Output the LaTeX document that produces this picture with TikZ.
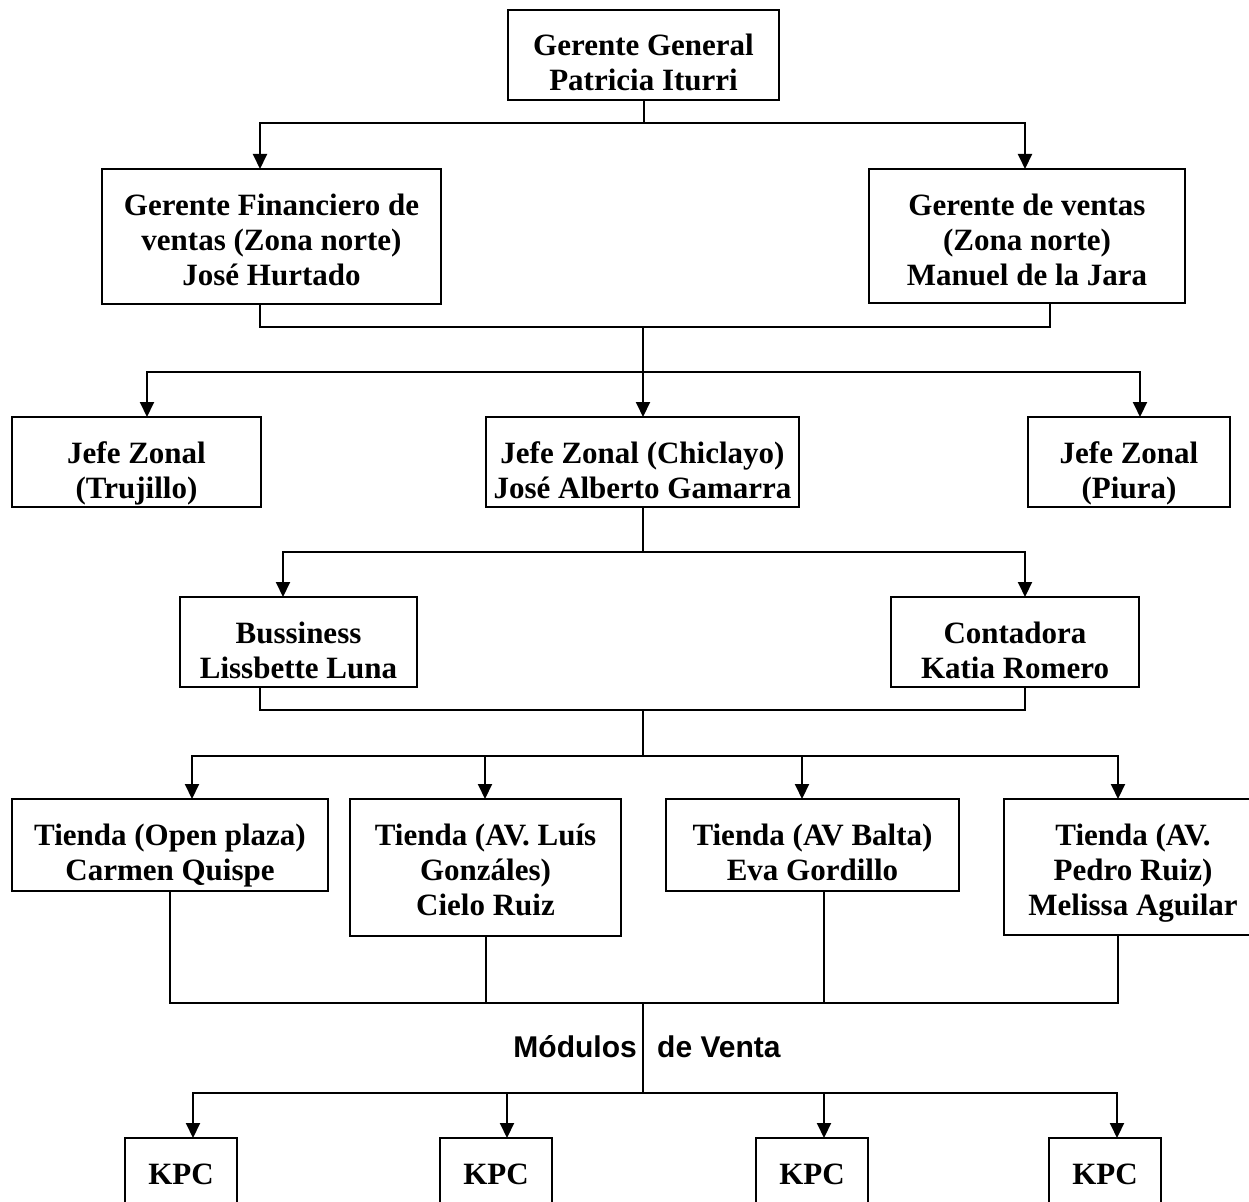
\documentclass[tikz,border=0pt]{standalone}
\usepackage{fontspec}
\setmainfont{Liberation Serif}
\newfontfamily\arialf{Liberation Sans}
\usetikzlibrary{arrows.meta}
\newcommand{\tb}[1]{\begin{tabular}[t]{@{}c@{}}#1\end{tabular}}
\begin{document}
\begin{tikzpicture}[x=1pt,y=-1pt,
  box/.style={draw, line width=2pt, inner sep=0pt, outer sep=0pt, anchor=north west,
    text height=46pt, font=\fontsize{31}{35}\selectfont\bfseries},
  conn/.style={line width=2pt},
  arr/.style={conn, -{Triangle[width=14pt,length=15pt]}},
  lab/.style={inner sep=0pt, font=\arialf\bfseries\fontsize{30}{36}\selectfont}]
\useasboundingbox[fill=white] (0,0) rectangle (1249,1201);

% boxes
\node[box, minimum width=271pt, text depth=44pt] (gg) at (508,10) {\tb{Gerente General\\Patricia Iturri}};
\node[box, minimum width=339pt, text depth=89pt] (gf) at (102,169) {\tb{Gerente Financiero de\\ventas (Zona norte)\\José Hurtado}};
\node[box, minimum width=316pt, text depth=88pt] (gv) at (869,169) {\tb{Gerente de ventas\\(Zona norte)\\Manuel de la Jara}};
\node[box, minimum width=249pt, text depth=44pt] (jt) at (12,417) {\tb{Jefe Zonal\\(Trujillo)}};
\node[box, minimum width=313pt, text depth=44pt] (jc) at (486,417) {\tb{Jefe Zonal (Chiclayo)\\José Alberto Gamarra}};
\node[box, minimum width=202pt, text depth=44pt] (jp) at (1028,417) {\tb{Jefe Zonal\\(Piura)}};
\node[box, minimum width=237pt, text depth=44pt] (bu) at (180,597) {\tb{Bussiness\\Lissbette Luna}};
\node[box, minimum width=248pt, text depth=44pt] (co) at (891,597) {\tb{Contadora\\Katia Romero}};
\node[box, minimum width=316pt, text depth=46pt] (t1) at (12,799) {\tb{Tienda (Open plaza)\\Carmen Quispe}};
\node[box, minimum width=271pt, text depth=91pt] (t2) at (350,799) {\tb{Tienda (AV. Luís\\Gonzáles)\\Cielo Ruiz}};
\node[box, minimum width=293pt, text depth=46pt] (t3) at (666,799) {\tb{Tienda (AV Balta)\\Eva Gordillo}};
\node[box, minimum width=258pt, text depth=90pt] (t4) at (1004,799) {\tb{Tienda (AV.\\Pedro Ruiz)\\Melissa Aguilar}\hspace{22pt}};
\node[box, minimum width=112pt, text depth=32pt] (k1) at (125,1138) {\tb{KPC}};
\node[box, minimum width=112pt, text depth=32pt] (k2) at (440,1138) {\tb{KPC}};
\node[box, minimum width=112pt, text depth=32pt] (k3) at (756,1138) {\tb{KPC}};
\node[box, minimum width=112pt, text depth=32pt] (k4) at (1049,1138) {\tb{KPC}};

% label
\node[lab, anchor=base east] (mod) at (637,1057) {Módulos};
\node[lab, anchor=base west] (ven) at (657,1057) {de Venta};

% level 1 -> 2
\coordinate (a1) at (260,123);
\coordinate (a2) at (1025,123);
\draw[arr] (gg.south) |- (a1) -- (a1 |- gf.north);
\draw[arr] (gg.south |- a2) -- (a2) -- (a2 |- gv.north);

% level 2 -> 3
\coordinate (b1) at (260,327);
\coordinate (b2) at (1050,327);
\draw[conn] (b1 |- gf.south) -- (b1) -- (b2) -- (b2 |- gv.south);
\coordinate (c0) at (643,372);
\coordinate (c1) at (147,372);
\coordinate (c2) at (1140,372);
\draw[arr] (c0 |- b1) -- (c0 |- jc.north);
\draw[arr] (c0) -- (c1) -- (c1 |- jt.north);
\draw[arr] (c0) -- (c2) -- (c2 |- jp.north);

% level 3 -> 4
\coordinate (d1) at (283,552);
\coordinate (d2) at (1025,552);
\draw[arr] (jc.south) |- (d1) -- (d1 |- bu.north);
\draw[arr] (jc.south |- d2) -- (d2) -- (d2 |- co.north);

% level 4 -> 5
\coordinate (e1) at (260,710);
\coordinate (e2) at (1025,710);
\draw[conn] (e1 |- bu.south) -- (e1) -- (e2) -- (e2 |- co.south);
\coordinate (f0) at (643,756);
\coordinate (f1) at (192,756);
\coordinate (f2) at (485,756);
\coordinate (f3) at (802,756);
\coordinate (f4) at (1118,756);
\draw[conn] (f0 |- e1) -- (f0);
\draw[arr] (f0) -- (f1) -- (f1 |- t1.north);
\draw[arr] (f0) -- (f4) -- (f4 |- t4.north);
\draw[arr] (f2) -- (f2 |- t2.north);
\draw[arr] (f3) -- (f3 |- t3.north);

% level 5 -> KPC
\coordinate (g0) at (643,1003);
\coordinate (g1) at (170,1003);
\coordinate (g2) at (486,1003);
\coordinate (g3) at (824,1003);
\coordinate (g4) at (1118,1003);
\draw[conn] (g1 |- t1.south) -- (g1) -- (g4) -- (g4 |- t4.south);
\draw[conn] (g2 |- t2.south) -- (g2);
\draw[conn] (g3 |- t3.south) -- (g3);
\coordinate (h0) at (643,1093);
\coordinate (h1) at (193,1093);
\coordinate (h2) at (507,1093);
\coordinate (h3) at (824,1093);
\coordinate (h4) at (1117,1093);
\draw[conn] (g0) -- (h0);
\draw[arr] (h0) -- (h1) -- (h1 |- k1.north);
\draw[arr] (h0) -- (h4) -- (h4 |- k4.north);
\draw[arr] (h2) -- (h2 |- k2.north);
\draw[arr] (h3) -- (h3 |- k3.north);
\end{tikzpicture}
\end{document}
